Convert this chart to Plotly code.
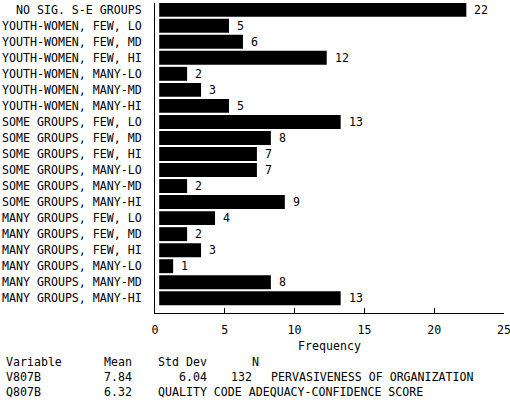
import plotly.graph_objects as go

# frequency per group (top to bottom)
categories = [
    "NO SIG. S-E GROUPS",
    "YOUTH-WOMEN, FEW, LO",
    "YOUTH-WOMEN, FEW, MD",
    "YOUTH-WOMEN, FEW, HI",
    "YOUTH-WOMEN, MANY-LO",
    "YOUTH-WOMEN, MANY-MD",
    "YOUTH-WOMEN, MANY-HI",
    "SOME GROUPS, FEW, LO",
    "SOME GROUPS, FEW, MD",
    "SOME GROUPS, FEW, HI",
    "SOME GROUPS, MANY-LO",
    "SOME GROUPS, MANY-MD",
    "SOME GROUPS, MANY-HI",
    "MANY GROUPS, FEW, LO",
    "MANY GROUPS, FEW, MD",
    "MANY GROUPS, FEW, HI",
    "MANY GROUPS, MANY-LO",
    "MANY GROUPS, MANY-MD",
    "MANY GROUPS, MANY-HI",
]
counts = [22, 5, 6, 12, 2, 3, 5, 13, 8, 7, 7, 2, 9, 4, 2, 3, 1, 8, 13]
x_ticks = [0, 5, 10, 15, 20, 25]

# summary table under the chart
stat_header = ["Variable", "Mean", "Std Dev", "N"]
stat_var = ["V807B", "7.84", "6.04", "132", "PERVASIVENESS OF ORGANIZATION"]
stat_qual = ["Q807B", "6.32", "QUALITY CODE ADEQUACY-CONFIDENCE SCORE"]

FONT = "DejaVu Sans Mono"
FS = 11.6
W, H = 510, 406
L, R, T, B = 155, 6, 3, 93

fig = go.Figure()

# bars live on a hidden axis nudged a few px right of the frame, like the original
fig.add_trace(go.Bar(
    x=counts,
    y=categories,
    orientation="h",
    xaxis="x2",
    marker=dict(color="black", line=dict(width=0)),
    width=0.87,
    hoverinfo="x+y",
))
# invisible carrier so the tick axis gets drawn
fig.add_trace(go.Scatter(
    x=[x_ticks[0], x_ticks[-1]],
    y=[categories[0], categories[0]],
    mode="markers",
    marker=dict(opacity=0),
    hoverinfo="skip",
))

annotations = []
for c, v in zip(categories, counts):
    annotations.append(dict(
        x=v, y=c, xref="x2", yref="y", text=str(v),
        xanchor="left", yanchor="middle", xshift=6,
        showarrow=False, font=dict(family=FONT, size=FS, color="black"),
    ))


def px_x(p):
    return (p - L) / (W - L - R)


def px_y(p):
    return (H - B - p) / (H - B - T)


rows = [
    (361.7, [(5, stat_header[0]), (102.7, stat_header[1]), (157, stat_header[2]), (250.7, stat_header[3])]),
    (377.3, [(5, stat_var[0]), (102.7, stat_var[1]), (177.7, stat_var[2]), (230, stat_var[3]), (270, stat_var[4])]),
    (391.7, [(5, stat_qual[0]), (102.7, stat_qual[1]), (157, stat_qual[2])]),
]
for yp, items in rows:
    for xp, txt in items:
        annotations.append(dict(
            x=px_x(xp - 1), y=px_y(yp), xref="paper", yref="paper", text=txt,
            xanchor="left", yanchor="middle", showarrow=False,
            font=dict(family=FONT, size=FS, color="black"),
        ))

fig.update_layout(
    width=W,
    height=H,
    margin=dict(l=L, r=R, t=T, b=B),
    paper_bgcolor="white",
    plot_bgcolor="white",
    showlegend=False,
    font=dict(family=FONT, size=FS, color="black"),
    xaxis=dict(
        range=[0, 25],
        tickvals=x_ticks,
        ticks="inside",
        ticklen=5,
        tickcolor="black",
        showline=True,
        linecolor="black",
        linewidth=1,
        showgrid=False,
        zeroline=False,
        automargin=False,
        ticklabeloverflow="allow",
        ticklabelstandoff=6,
        title=dict(text="Frequency", standoff=5, font=dict(family=FONT, size=FS)),
    ),
    xaxis2=dict(
        range=[-0.3, 24.7],
        overlaying="x",
        visible=False,
    ),
    yaxis=dict(
        type="category",
        categoryorder="array",
        categoryarray=categories,
        range=[18.92, -0.418],
        showline=True,
        linecolor="black",
        linewidth=1,
        showgrid=False,
        zeroline=False,
        automargin=False,
        ticks="",
        ticklabelstandoff=10,
        tickfont=dict(family=FONT, size=FS),
    ),
    annotations=annotations,
)

fig.write_html(
    "out.html",
    config={"displayModeBar": False},
    post_script="document.body.style.margin='0px';",
)
